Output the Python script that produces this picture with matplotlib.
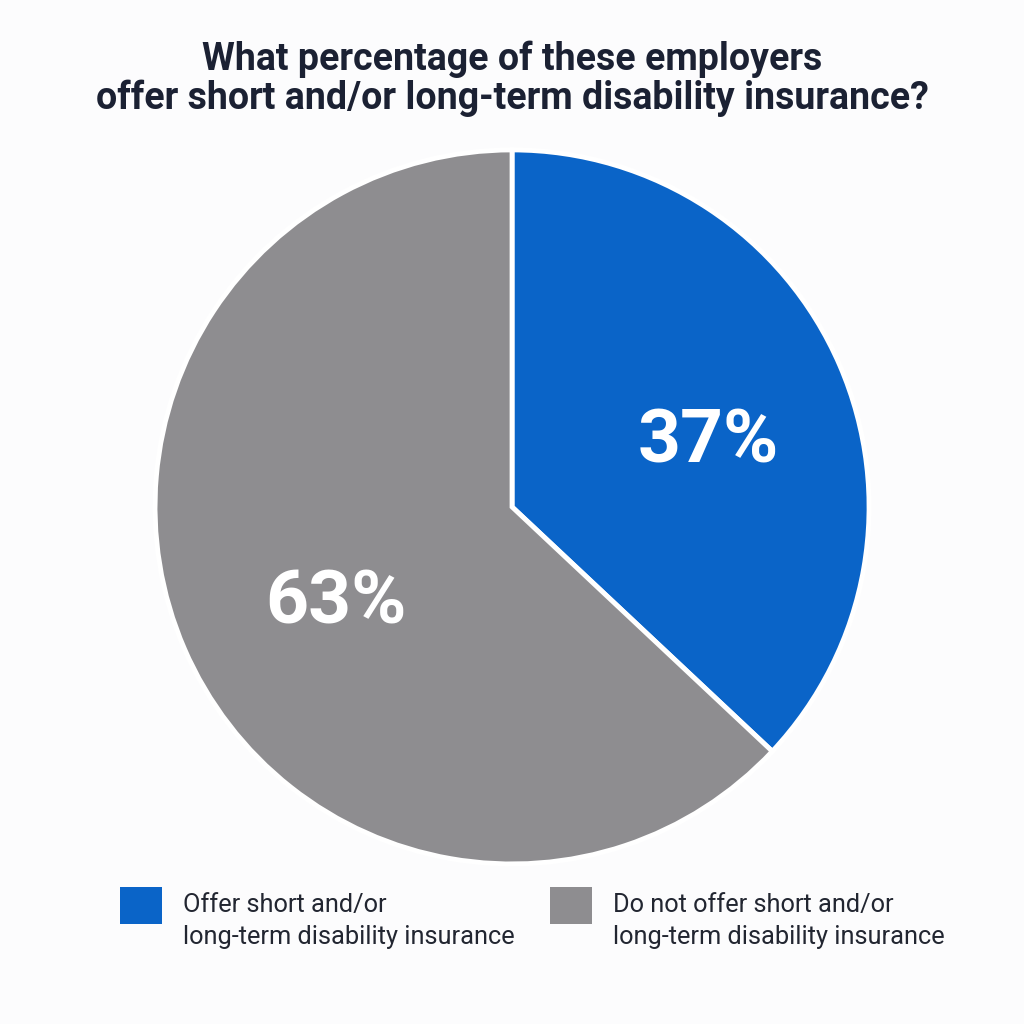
import matplotlib.pyplot as plt
from matplotlib.patches import Rectangle

plt.rcParams['font.family'] = ['Roboto', 'DejaVu Sans']

# data
shares = [37, 63]
pct_labels = ['37%', '63%']
legend_labels = ['Offer short and/or\nlong-term disability insurance',
                 'Do not offer short and/or\nlong-term disability insurance']
colors = ['#0a64c8', '#8e8d90']
title = 'What percentage of these employers\noffer short and/or long-term disability insurance?'

# label spots inside the pie (axes data units, radius = 1)
label_xy = [(0.551, 0.180), (-0.492, -0.270)]

fig = plt.figure(figsize=(10.24, 10.24), dpi=100)
fig.patch.set_facecolor('#fcfcfd')

ax = fig.add_axes([0.1514, 0.1563, 0.6973, 0.6973])
ax.pie(shares, colors=colors, startangle=90, counterclock=False,
       radius=1, wedgeprops=dict(edgecolor='white', linewidth=3.5))
ax.set_xlim(-1, 1)
ax.set_ylim(-1, 1)
ax.set_aspect('equal')
ax.axis('off')

for (x, y), lab in zip(label_xy, pct_labels):
    ax.text(x, y, lab, ha='center', va='center', color='white',
            fontsize=54, fontweight='bold')

fig.text(0.5, 0.923, title, ha='center', va='center', fontsize=27,
         fontweight='bold', color='#1b2133', linespacing=1.05)

# legend drawn by hand
box_x = [120 / 1024, 550 / 1024]
for bx, c, lab in zip(box_x, colors, legend_labels):
    fig.patches.append(Rectangle((bx, 1 - 924 / 1024), 42 / 1024, 37 / 1024,
                                 transform=fig.transFigure, facecolor=c,
                                 edgecolor='none'))
    fig.text(bx + 63 / 1024, 1 - 921 / 1024, lab, ha='left', va='center',
             fontsize=18.3, color='#222631', linespacing=1.42)

fig.savefig('out.png', dpi=100, facecolor=fig.get_facecolor())
